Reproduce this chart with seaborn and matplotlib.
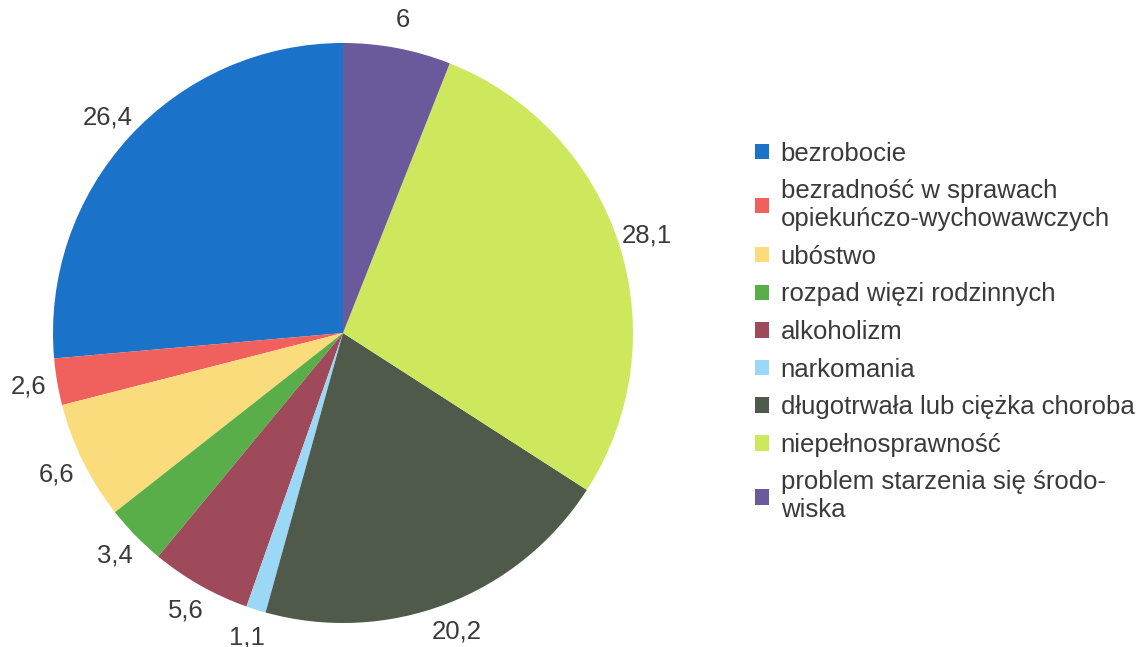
import numpy as np
import pandas as pd
import matplotlib.pyplot as plt
import seaborn as sns

categories = ["bezrobocie",
              "bezradność w sprawach\nopiekuńczo-wychowawczych",
              "ubóstwo",
              "rozpad więzi rodzinnych",
              "alkoholizm",
              "narkomania",
              "długotrwała lub ciężka choroba",
              "niepełnosprawność",
              "problem starzenia się środo-\nwiska"]
values = [26.4, 2.6, 6.6, 3.4, 5.6, 1.1, 20.2, 28.1, 6]
labels = ["26,4", "2,6", "6,6", "3,4", "5,6", "1,1", "20,2", "28,1", "6"]
colors = ["#1a72c9", "#f0605c", "#fbdc7c", "#5aae4a", "#9e4a5a",
          "#9ad8f5", "#4f5a4a", "#cde85c", "#6a5a9c"]

sns.set_theme(style="white")
plt.rcParams['font.family'] = ['Liberation Sans', 'DejaVu Sans']

fig = plt.figure(figsize=(11.44, 6.47), dpi=100)
ax = fig.add_axes([53/1144, 24/647, 580/1144, 580/647])

pal = sns.color_palette(colors)
wedges, texts = ax.pie(values, labels=labels, colors=pal, startangle=90,
                       counterclock=True, labeldistance=1.1,
                       wedgeprops=dict(linewidth=0),
                       textprops=dict(fontsize=18.5, color="#3a3a3a"))
for t in texts:
    t.set_clip_on(False)
    t.set_ha("center")
    t.set_va("center")
ax.set_xlim(-1, 1)
ax.set_ylim(-1, 1)
ax.set_aspect('equal')

leg = fig.legend(wedges, categories, loc="center left",
                 bbox_to_anchor=(755/1144, 1 - 332/647),
                 frameon=False, fontsize=18.5, handlelength=0.55,
                 handleheight=0.55, handletextpad=0.45, labelspacing=0.53,
                 borderaxespad=0, borderpad=0)
for t in leg.get_texts():
    t.set_color("#3a3a3a")
    t.set_linespacing(1.2)

fig.savefig("out.png", dpi=100)
